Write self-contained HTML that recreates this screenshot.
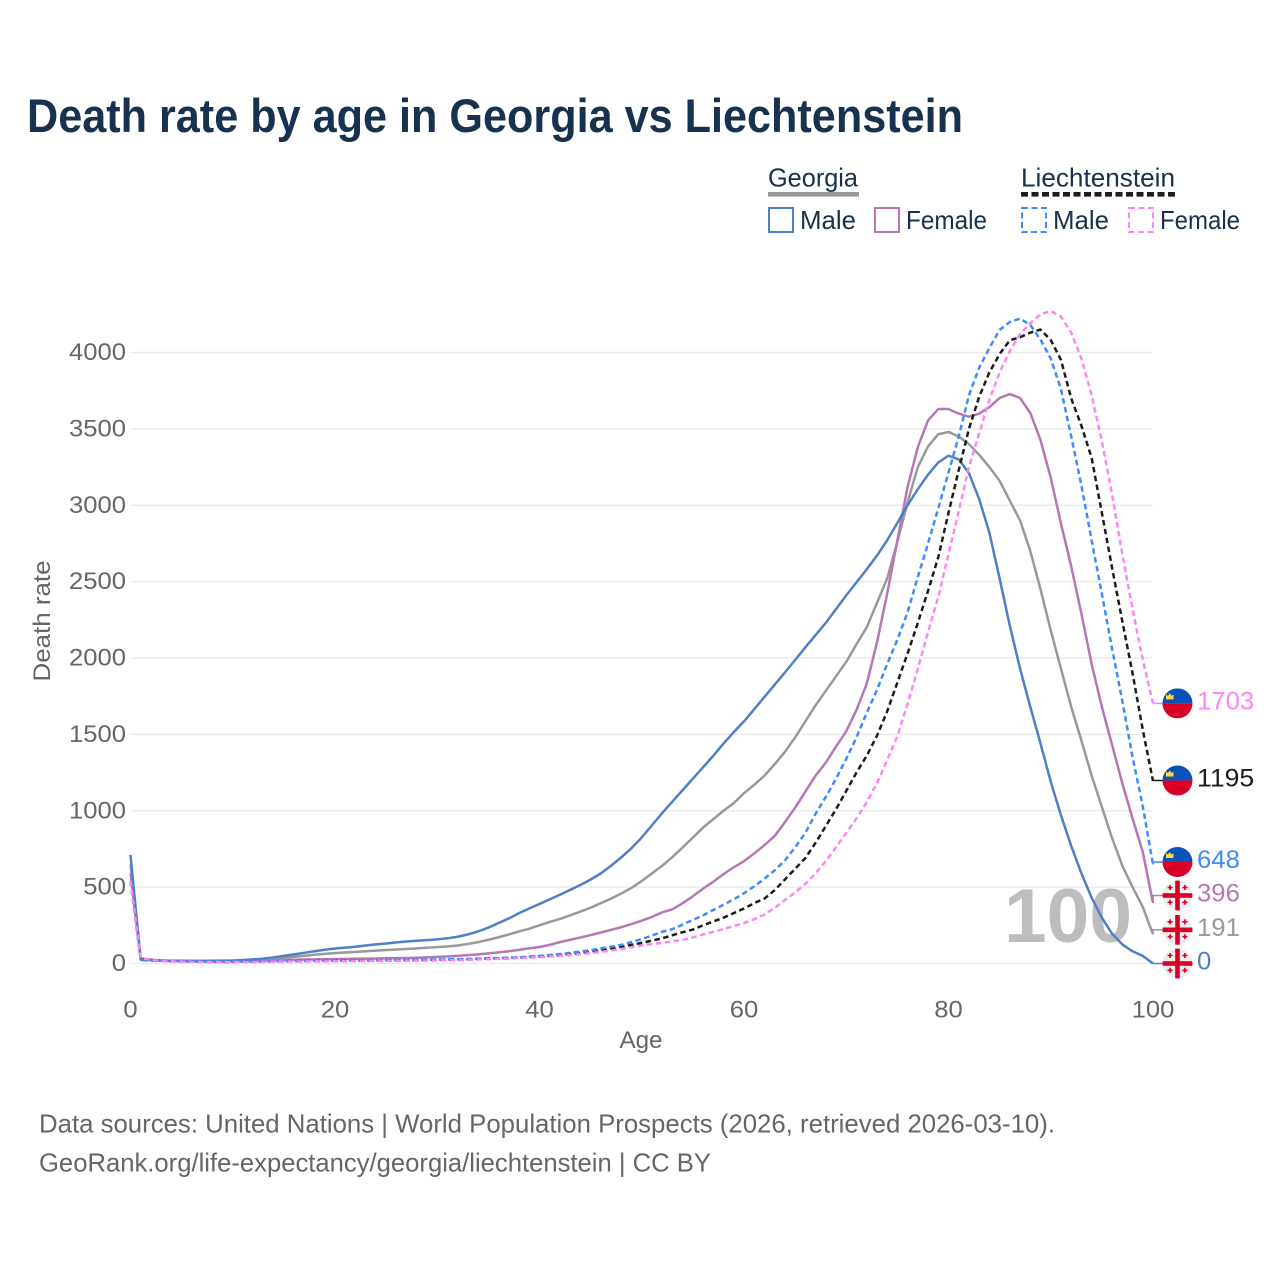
<!DOCTYPE html>
<html lang="en">
<head>
<meta charset="utf-8">
<title>Death rate by age in Georgia vs Liechtenstein</title>
<style>
html,body{margin:0;padding:0;background:#fff;}
svg{display:block;}
text{font-family:"Liberation Sans",sans-serif;}
</style>
</head>
<body>
<svg id="chart" xmlns="http://www.w3.org/2000/svg" width="1280" height="1280" viewBox="0 0 1280 1280">
  <defs>
    <clipPath id="flag-clip"><circle cx="0" cy="0" r="15"/></clipPath>
    <g id="flag-li" clip-path="url(#flag-clip)">
      <rect x="-15" y="-15" width="30" height="15" fill="#0b52b8"/>
      <rect x="-15" y="0" width="30" height="15" fill="#d80027"/>
      <path d="M-11.5,-4 h7.5 v-5 l-1.7,1.5 l-2,-2.5 l-2,2.5 l-1.8,-1.5 z" fill="#ffd83d"/>
    </g>
    <g id="flag-ge" clip-path="url(#flag-clip)">
      <rect x="-15" y="-15" width="30" height="30" fill="#eeeeee"/>
      <rect x="-2.3" y="-15" width="4.6" height="30" fill="#d80027"/>
      <rect x="-15" y="-2.3" width="30" height="4.6" fill="#d80027"/>
      <path d="M-8.2,-10.5 h1.6 v1.7 h1.7 v1.6 h-1.7 v1.7 h-1.6 v-1.7 h-1.7 v-1.6 h1.7 z" fill="#d80027"/>
      <path d="M6.6,-10.5 h1.6 v1.7 h1.7 v1.6 h-1.7 v1.7 h-1.6 v-1.7 h-1.7 v-1.6 h1.7 z" fill="#d80027"/>
      <path d="M-8.2,4.3 h1.6 v1.7 h1.7 v1.6 h-1.7 v1.7 h-1.6 v-1.7 h-1.7 v-1.6 h1.7 z" fill="#d80027"/>
      <path d="M6.6,4.3 h1.6 v1.7 h1.7 v1.6 h-1.7 v1.7 h-1.6 v-1.7 h-1.7 v-1.6 h1.7 z" fill="#d80027"/>
    </g>
  </defs>

  <text x="27" y="132" font-size="47" font-weight="700" fill="#17314f" textLength="936" lengthAdjust="spacingAndGlyphs">Death rate by age in Georgia vs Liechtenstein</text>

  <g font-size="26" fill="#17314f">
    <text x="768" y="186.5" textLength="90" lengthAdjust="spacingAndGlyphs">Georgia</text>
    <rect x="768" y="192" width="91" height="4.6" fill="#999999"/>
    <text x="1021" y="186.5" textLength="154" lengthAdjust="spacingAndGlyphs">Liechtenstein</text>
    <line x1="1021" y1="194.3" x2="1175" y2="194.3" stroke="#1c1c1c" stroke-width="4.6" stroke-dasharray="7 3.5"/>

    <rect x="769" y="208" width="24" height="24" fill="none" stroke="#4e7fc9" stroke-width="2"/>
    <text x="800" y="229" textLength="56" lengthAdjust="spacingAndGlyphs">Male</text>
    <rect x="875" y="208" width="24" height="24" fill="none" stroke="#b678b4" stroke-width="2"/>
    <text x="906" y="229" textLength="81" lengthAdjust="spacingAndGlyphs">Female</text>
    <rect x="1022" y="208" width="24" height="24" fill="none" stroke="#3d8bff" stroke-width="2" stroke-dasharray="6 3.5"/>
    <text x="1053" y="229" textLength="56" lengthAdjust="spacingAndGlyphs">Male</text>
    <rect x="1129" y="208" width="24" height="24" fill="none" stroke="#ff85f5" stroke-width="2" stroke-dasharray="6 3.5"/>
    <text x="1160" y="229" textLength="80" lengthAdjust="spacingAndGlyphs">Female</text>
  </g>

  <g id="grid"></g>
  <text x="1004" y="942" font-size="76" font-weight="700" fill="#bdbdbd" textLength="128" lengthAdjust="spacingAndGlyphs">100</text>
  <g id="ticks"></g>
  <g id="series"></g>
  <g id="endpoints"></g>

  <text x="641" y="1048" font-size="24" fill="#666666" text-anchor="middle" textLength="43" lengthAdjust="spacingAndGlyphs">Age</text>
  <text transform="translate(50,621) rotate(-90)" font-size="24" fill="#666666" text-anchor="middle" textLength="121" lengthAdjust="spacingAndGlyphs">Death rate</text>

  <text x="39" y="1132.5" font-size="26" fill="#666666" textLength="1016" lengthAdjust="spacingAndGlyphs">Data sources: United Nations | World Population Prospects (2026, retrieved 2026-03-10).</text>
  <text x="39" y="1171.5" font-size="26" fill="#666666" textLength="672" lengthAdjust="spacingAndGlyphs">GeoRank.org/life-expectancy/georgia/liechtenstein | CC BY</text>
</svg>

<script>
const xTickLabels = [0, 20, 40, 60, 80, 100];
const yTickLabels = [0, 500, 1000, 1500, 2000, 2500, 3000, 3500, 4000];

// Values by age 0..100
const georgiaBoth = [
  650,30,24,20,18,17,16,15,15,16,
  17,18,21,25,30,36,43,50,57,63,
  68,72,76,80,84,88,92,95,99,103,
  107,112,118,128,140,155,172,190,210,228,
  250,272,292,315,340,365,395,425,458,495,
  540,590,640,697,760,825,890,945,1000,1050,
  1115,1170,1230,1305,1385,1480,1585,1690,1785,1880,
  1975,2090,2200,2360,2520,2760,3020,3250,3385,3465,
  3480,3450,3400,3330,3250,3160,3030,2900,2700,2450,
  2180,1930,1680,1460,1230,1025,820,640,500,370,
  191];
const georgiaFemale = [
  590,35,25,20,17,15,14,13,13,13,
  14,14,15,17,19,22,24,26,27,28,
  29,30,31,32,33,34,35,36,38,40,
  43,46,50,55,60,66,73,80,89,100,
  108,122,140,155,170,186,203,220,238,258,
  280,305,335,355,395,440,490,535,585,630,
  670,720,775,835,925,1020,1125,1230,1315,1420,
  1520,1660,1830,2100,2420,2770,3120,3380,3555,3630,
  3630,3600,3580,3600,3643,3702,3728,3702,3604,3427,
  3180,2880,2600,2290,1960,1680,1430,1180,950,730,
  396];
const georgiaMale = [
  710,25,22,20,18,18,17,17,18,19,
  20,23,27,32,40,50,60,70,80,90,
  98,104,110,118,125,131,138,144,149,153,
  158,165,175,190,210,235,265,295,330,360,
  390,420,450,482,514,550,590,640,695,755,
  825,905,985,1060,1135,1210,1285,1360,1440,1515,
  1585,1665,1745,1825,1905,1987,2070,2150,2230,2320,
  2410,2495,2580,2670,2770,2885,3000,3105,3200,3280,
  3325,3300,3210,3040,2820,2520,2210,1930,1680,1440,
  1190,970,770,590,430,300,195,125,80,50,
  0];
const liechtensteinBoth = [
  540,28,21,18,15,14,13,12,11,11,
  11,12,12,13,14,15,16,17,18,18,
  19,19,20,20,20,21,21,22,22,23,
  24,25,27,28,30,32,34,36,39,42,
  46,51,56,62,70,78,88,98,110,122,
  135,150,165,185,205,222,250,275,300,330,
  360,395,425,480,550,620,690,790,900,1010,
  1130,1250,1360,1490,1650,1840,2030,2230,2440,2660,
  2950,3230,3500,3710,3870,3990,4080,4100,4130,4150,
  4082,3951,3700,3520,3310,2950,2590,2240,1900,1530,
  1195];
const liechtensteinMale = [
  540,22,20,18,16,15,14,13,12,12,
  12,12,13,13,14,15,16,17,18,19,
  20,20,21,21,22,22,23,24,24,25,
  26,27,28,30,32,34,36,38,41,45,
  50,56,62,70,78,88,98,110,122,140,
  160,183,208,225,255,285,315,350,385,420,
  460,505,555,610,675,760,855,980,1090,1210,
  1340,1480,1640,1790,1960,2120,2300,2530,2750,2980,
  3215,3450,3720,3900,4030,4148,4200,4222,4180,4085,
  3960,3760,3450,3130,2770,2420,2060,1720,1350,1030,
  648];
const liechtensteinFemale = [
  540,36,23,17,14,12,11,10,10,9,
  9,10,10,11,12,12,13,13,14,14,
  15,15,16,16,17,17,18,18,19,19,
  20,21,22,24,26,28,30,32,35,38,
  42,46,50,55,61,68,76,85,95,106,
  118,128,135,145,155,170,190,208,225,245,
  265,290,320,365,415,465,520,590,670,760,
  855,950,1055,1180,1330,1490,1700,1930,2170,2400,
  2680,2960,3250,3470,3690,3870,4010,4120,4193,4250,
  4272,4235,4130,3960,3720,3420,3070,2680,2320,1990,
  1703];

const xAxis = v => 130.5 + v * 10.225;
const yAxis = v => 963.5 - v * 0.15275;
const NS = 'http://www.w3.org/2000/svg';
const gridGroup = document.getElementById('grid');
const tickGroup = document.getElementById('ticks');
const seriesGroup = document.getElementById('series');
const endGroup = document.getElementById('endpoints');

yTickLabels.forEach(t => {
  const line = document.createElementNS(NS, 'line');
  
  
  line.setAttribute('x1', xAxis(0));
  line.setAttribute('x2', xAxis(100));
  line.setAttribute('y1', yAxis(t));
  line.setAttribute('y2', yAxis(t));
  line.setAttribute('stroke', '#ebebeb');
  line.setAttribute('stroke-width', '1.5');
  gridGroup.appendChild(line);

  const label = document.createElementNS(NS, 'text');
  
  
  label.setAttribute('x', 126);
  label.setAttribute('y', yAxis(t) + 7.5);
  label.setAttribute('text-anchor', 'end');
  label.setAttribute('font-size', '24');
  label.setAttribute('fill', '#666666');
  label.setAttribute('textLength', String(t).length * 14.25);
  label.setAttribute('lengthAdjust', 'spacingAndGlyphs');
  label.textContent = t;
  tickGroup.appendChild(label);
});

xTickLabels.forEach(t => {
  const label = document.createElementNS(NS, 'text');
  
  
  label.setAttribute('x', xAxis(t));
  label.setAttribute('y', 1017.5);
  label.setAttribute('text-anchor', 'middle');
  label.setAttribute('font-size', '24');
  label.setAttribute('fill', '#666666');
  label.setAttribute('textLength', String(t).length * 14.25);
  label.setAttribute('lengthAdjust', 'spacingAndGlyphs');
  label.textContent = t;
  tickGroup.appendChild(label);
});

const seriesList = [
  {key: 'georgia-both', values: georgiaBoth, color: '#999999', dash: null, flag: 'flag-ge', nudge: -4.5},
  {key: 'georgia-female', values: georgiaFemale, color: '#b678b4', dash: null, flag: 'flag-ge', nudge: -7.5},
  {key: 'georgia-male', values: georgiaMale, color: '#4e7fc9', dash: null, flag: 'flag-ge', nudge: 0},
  {key: 'liechtenstein-both', values: liechtensteinBoth, color: '#1c1c1c', dash: '5.5 3.5', flag: 'flag-li', nudge: -0.5},
  {key: 'liechtenstein-male', values: liechtensteinMale, color: '#3d8bff', dash: '5.5 3.5', flag: 'flag-li', nudge: -2.5},
  {key: 'liechtenstein-female', values: liechtensteinFemale, color: '#ff85f5', dash: '5.5 3.5', flag: 'flag-li', nudge: 0}
];

seriesList.forEach(s => {
  const path = document.createElementNS(NS, 'polyline');
  
  
  path.setAttribute('points', s.values.map((v, i) => xAxis(i).toFixed(2) + ',' + yAxis(v).toFixed(2)).join(' '));
  path.setAttribute('fill', 'none');
  path.setAttribute('stroke', s.color);
  path.setAttribute('stroke-width', '2.5');
  path.setAttribute('stroke-linejoin', 'round');
  if (s.dash) path.setAttribute('stroke-dasharray', s.dash);
  seriesGroup.appendChild(path);

  const last = s.values[s.values.length - 1];
  const yEnd = yAxis(last);
  const yFlag = yEnd + s.nudge;

  const connector = document.createElementNS(NS, 'polyline');
  
  
  connector.setAttribute('points', xAxis(100) + ',' + yEnd + ' ' + xAxis(100) + ',' + yFlag + ' 1163,' + yFlag);
  connector.setAttribute('fill', 'none');
  connector.setAttribute('stroke', s.color);
  connector.setAttribute('stroke-width', '1.5');
  endGroup.appendChild(connector);

  const flag = document.createElementNS(NS, 'use');
  
  
  flag.setAttribute('href', '#' + s.flag);
  flag.setAttribute('transform', 'translate(1177.5,' + yFlag + ')');
  endGroup.appendChild(flag);

  const label = document.createElementNS(NS, 'text');
  
  
  label.setAttribute('x', 1197);
  label.setAttribute('y', yFlag + 6);
  label.setAttribute('font-size', '25');
  label.setAttribute('fill', s.color);
  label.setAttribute('textLength', String(last).length * 14.3);
  label.setAttribute('lengthAdjust', 'spacingAndGlyphs');
  label.textContent = last;
  endGroup.appendChild(label);
});
</script>
</body>
</html>
